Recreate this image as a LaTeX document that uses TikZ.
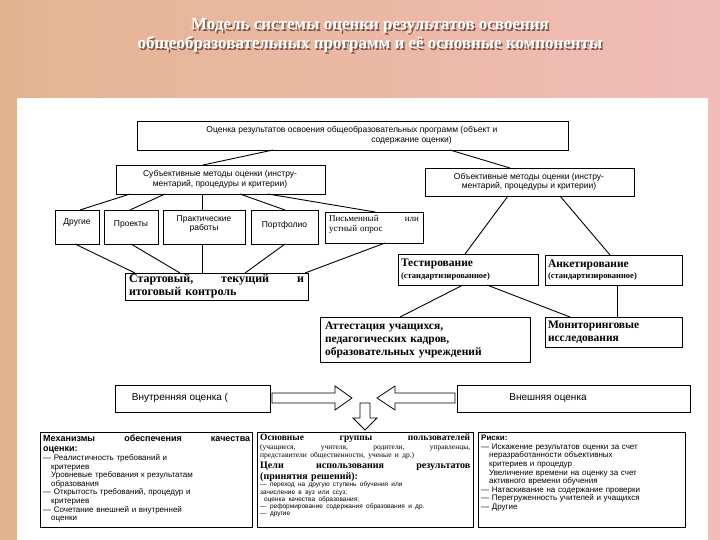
\documentclass[tikz,border=0pt]{standalone}
\usepackage{fontspec}
\setmainfont{Liberation Serif}
\setsansfont{Liberation Sans}
\begin{document}
\begin{tikzpicture}[x=1pt,y=-1pt,
  bx/.style={draw,line width=0.8pt,fill=white},
  sf/.style={font=\sffamily\fontsize{8.5}{9.5}\selectfont,align=center,inner sep=1pt},
  sr/.style={font=\rmfamily\bfseries\fontsize{11}{12}\selectfont,align=left,inner sep=2pt},
  ln/.style={line width=0.9pt},
  barr/.style={draw,line width=0.8pt,fill=white},
  small/.style={font=\sffamily\fontsize{8}{8.6}\selectfont,align=left,inner sep=0pt}]
\shade[left color={rgb,255:red,228;green,180;blue,145},right color={rgb,255:red,242;green,188;blue,184}] (0,0) rectangle (720,540);
\useasboundingbox (0,0) rectangle (720,540);
\fill[white] (17,98) rectangle (708,540);
\node[font=\rmfamily\bfseries\fontsize{17}{19}\selectfont,text={rgb,255:red,120;green,85;blue,75},align=center] at (371.5,37) {Модель системы оценки результатов освоения\\общеобразовательных программ и её основные компоненты};
\node (title) [font=\rmfamily\bfseries\fontsize{17}{19}\selectfont,text=white,align=center] at (370,35.5) {Модель системы оценки результатов освоения\\общеобразовательных программ и её основные компоненты};
% top boxes
\draw[bx] (137,121) rectangle (568,150); \node (top) [sf] at (352,135.5) {Оценка результатов освоения общеобразовательных программ (объект и\\\hspace*{14em}содержание оценки)};
\draw[bx] (116,165) rectangle (325,194); \node (subj) [sf] at (220,179.5) {Субъективные методы оценки (инстру-\\ментарий, процедуры и критерии)};
\draw[bx] (425,168) rectangle (634,196); \node (obj) [sf] at (529,182) {Объективные методы оценки (инстру-\\ментарий, процедуры и критерии)};
\draw[bx] (55,210) rectangle (99,244); \node (c1) [sf] at (77,222) {Другие};
\draw[bx] (104,210) rectangle (158,244); \node (c2) [sf] at (131,224) {Проекты};
\draw[bx] (163,210) rectangle (245,244); \node (c3) [sf] at (204,224) {Практические\\работы};
\draw[bx] (251,210) rectangle (318,244); \node (c4) [sf] at (284.5,225) {Портфолио};
\draw[bx] (325,212) rectangle (423,243); \node (c5) [font=\rmfamily\fontsize{9}{10}\selectfont,align=left,text width=90pt,inner sep=0pt] at (374,224) {Письменный\hfill или\\устный опрос};
\draw[bx] (125,273) rectangle (308,300); \node (ctl) [sr,font=\rmfamily\bfseries\fontsize{12}{13}\selectfont,text width=175pt,inner sep=0pt] at (216.5,286.5) {Стартовый,\hfill текущий\hfill и\\итоговый контроль};
\draw[bx] (398,254) rectangle (538,285); \node (test) [sr,font=\rmfamily\bfseries\fontsize{11.5}{11.5}\selectfont,text width=134pt,inner sep=0pt] at (468,269.5) {Тестирование\\{\fontsize{8.5}{10}\selectfont(стандартизированное)}};
\draw[bx] (545,255) rectangle (682,285); \node (ank) [sr,font=\rmfamily\bfseries\fontsize{11.5}{11.5}\selectfont,text width=131pt,inner sep=0pt] at (613.5,270) {Анкетирование\\{\fontsize{8.5}{10}\selectfont(стандартизированное)}};
\draw[bx] (320,317) rectangle (530,362); \node (att) [sr,font=\rmfamily\bfseries\fontsize{11.5}{13}\selectfont,text width=200pt,inner sep=0pt] at (425,339.5) {Аттестация учащихся,\\педагогических кадров,\\образовательных учреждений};
\draw[bx] (545,317) rectangle (682,347); \node (mon) [sr,font=\rmfamily\bfseries\fontsize{11.5}{13}\selectfont,text width=131pt,inner sep=0pt] at (613.5,332) {Мониторинговые\\исследования};
% connectors
\draw[ln] (273,150) -- (203,165);
\draw[ln] (450,150) -- (510,168);
\draw[ln] (130,194) -- (80,210);
\draw[ln] (165,194) -- (130,210);
\draw[ln] (202,194) -- (202,210);
\draw[ln] (240,194) -- (285,210);
\draw[ln] (268,194) -- (375,212);
\draw[ln] (75,244) -- (135,273);
\draw[ln] (131,244) -- (180,273);
\draw[ln] (202,244) -- (202,273);
\draw[ln] (285,244) -- (245,273);
\draw[ln] (385,243) -- (305,273);
\draw[ln] (508,196) -- (465,254);
\draw[ln] (560,196) -- (610,255);
\draw[ln] (463,285) -- (400,317);
\draw[ln] (487,285) -- (570,317);
\draw[ln] (617,285) -- (617,317);
% evaluation boxes & arrows
\draw[bx] (115,385) rectangle (270,412); \node (in) [sf,font=\sffamily\fontsize{10}{10}\selectfont] at (180,398) {Внутренняя оценка (};
\draw[bx] (457,385) rectangle (690,412); \node (ex) [sf,font=\sffamily\fontsize{10}{10}\selectfont] at (548,398) {Внешняя оценка};
\draw[barr] (272,393) -- (335,393) -- (335,386) -- (352,398) -- (335,410) -- (335,403) -- (272,403) -- cycle;
\draw[barr] (455,393) -- (395,393) -- (395,386) -- (377,398) -- (395,410) -- (395,403) -- (455,403) -- cycle;
\draw[barr] (360,403) -- (370,403) -- (370,418) -- (377,418) -- (365,430) -- (353,418) -- (360,418) -- cycle;
% bottom boxes
\draw[bx] (40,432) rectangle (252,527);
\node (b1) [small,anchor=north west,text width=207pt] at (43,435) {{\bfseries\fontsize{9}{10}\selectfont Механизмы\hfill обеспечения\hfill качества\\оценки:\par}— Реалистичность требований и\\\hspace*{1em}критериев\\\hspace*{1em}Уровневые требования к результатам\\\hspace*{1em}образования\\— Открытость требований, процедур и\\\hspace*{1em}критериев\\— Сочетание внешней и внутренней\\\hspace*{1em}оценки};
\draw[bx] (257,432) rectangle (473,527);
\node (b2) [anchor=north west,text width=210pt,inner sep=0pt,align=left] at (260,434) {\rmfamily\bfseries\fontsize{9.5}{10.5}\selectfont Основные\hfill группы\hfill пользователей\par
\mdseries\fontsize{7.5}{8.5}\selectfont(учащиеся,\hfill учителя,\hfill родители,\hfill управленцы,\\представители общественности, ученые и др.)\par
\bfseries\fontsize{10}{11}\selectfont Цели\hfill использования\hfill результатов\\(принятия решений):\par
\sffamily\mdseries\fontsize{6.5}{7.2}\selectfont — переход на другую ступень обучения или\\зачисление в вуз или ссуз;\\\hspace*{0.6em}оценка качества образования;\\— реформирование содержания образования и др.\\— другие\par};
\draw[bx] (478,432) rectangle (685,527);
\node (b3) [small,anchor=north west,text width=203pt] at (481,435) {{\bfseries Риски:}\\— Искажение результатов оценки за счет\\\hspace*{1em}неразработанности объективных\\\hspace*{1em}критериев и процедур\\\hspace*{1em}Увеличение времени на оценку за счет\\\hspace*{1em}активного времени обучения\\— Натаскивание на содержание проверки\\— Перегруженность учителей и учащихся\\— Другие};
\end{tikzpicture}
\end{document}
